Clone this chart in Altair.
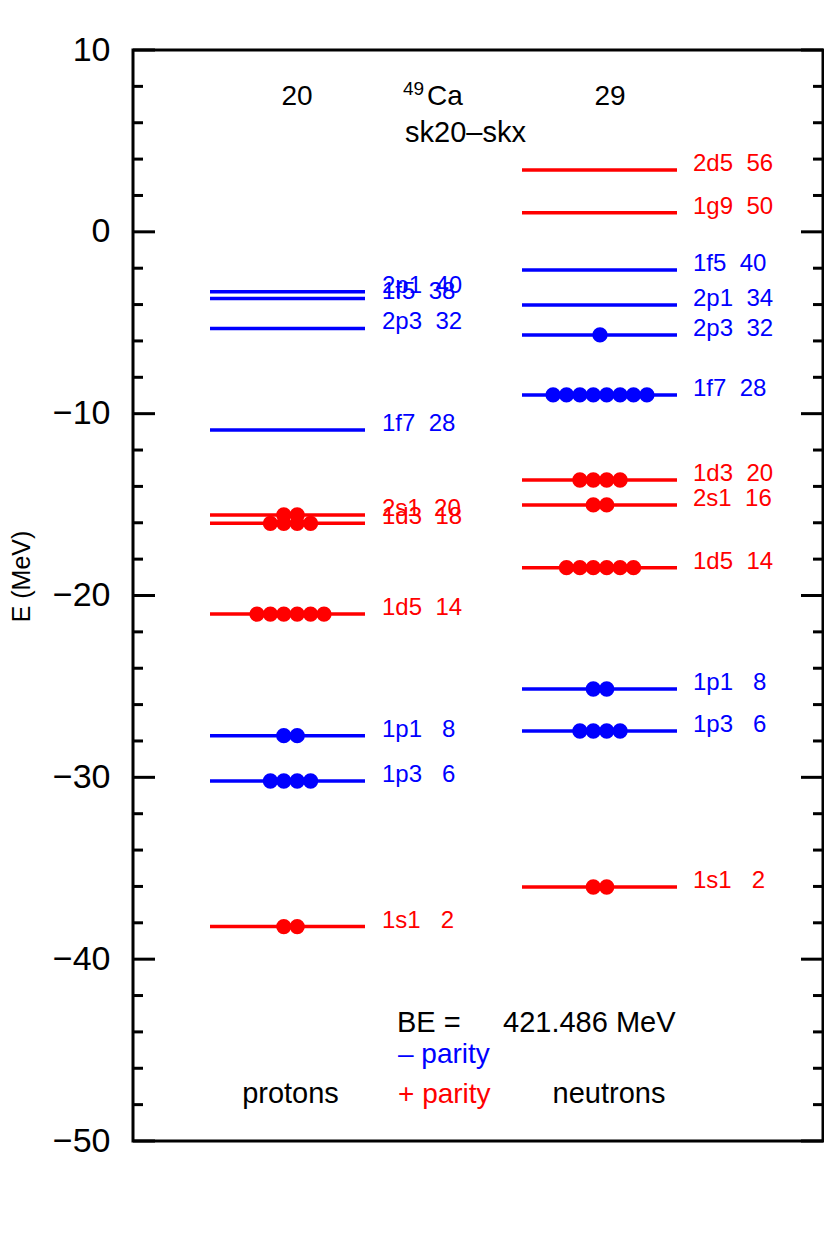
import altair as alt
import pandas as pd

# ---------------- data ----------------
# protons (Z = 20)
p_orb = ["1s1", "1p3", "1p1", "1d5", "2s1", "1d3", "1f7", "2p3", "1f5", "2p1"]
p_cnt = [2, 6, 8, 14, 20, 18, 28, 32, 38, 40]
p_E = [-38.21, -30.20, -27.71, -21.02, -15.57, -16.03, -10.90, -5.31, -3.66, -3.29]
p_occ = [2, 4, 2, 6, 2, 4, 0, 0, 0, 0]
p_par = ["+", "-", "-", "+", "+", "+", "-", "-", "-", "-"]

# neutrons (N = 29)
n_orb = ["1s1", "1p3", "1p1", "1d5", "2s1", "1d3", "1f7", "2p3", "2p1", "1f5", "1g9", "2d5"]
n_cnt = [2, 6, 8, 14, 16, 20, 28, 32, 34, 40, 50, 56]
n_E = [-36.03, -27.45, -25.14, -18.47, -15.02, -13.65, -8.97, -5.67, -4.02, -2.10, 1.05, 3.40]
n_occ = [2, 4, 2, 6, 2, 4, 8, 1, 0, 0, 0, 0]
n_par = ["+", "-", "-", "+", "+", "+", "-", "-", "-", "-", "+", "+"]

y_ticks_major = [-50, -40, -30, -20, -10, 0, 10]
y_ticks_minor = [v for v in range(-48, 10, 2) if v % 10 != 0]

nucleus_sup = "49"
nucleus = "Ca"
interaction = "sk20\u2013skx"
be_text = "421.486 MeV"

# ---------------- layout / style ----------------
W, H = 690, 1091
FONT = "Liberation Sans, Arial, Helvetica, sans-serif"
BLUE = "#0000ff"
RED = "#ff0000"
col_of = {"+": RED, "-": BLUE}
# column layout (x in plot pixels)
side = {
    "p": dict(x1=77, x2=232, dot=157.5, lab=249),
    "n": dict(x1=389, x2=544, dot=467, lab=560),
}
DOT_STEP = 13.4


def nb(s):
    return s.replace(" ", "\u00a0")


rows, dots = [], []
for key, orb, cnt, E, occ, par in (
    [("p",) + t for t in zip(p_orb, p_cnt, p_E, p_occ, p_par)]
    + [("n",) + t for t in zip(n_orb, n_cnt, n_E, n_occ, n_par)]
):
    s = side[key]
    rows.append(dict(x1=s["x1"], x2=s["x2"], lx=s["lab"], E=E,
                     label=nb(f"{orb} {cnt:>3d}"), col=col_of[par]))
    for i in range(occ):
        dots.append(dict(x=s["dot"] + (i - (occ - 1) / 2) * DOT_STEP, E=E, col=col_of[par]))

levels = pd.DataFrame(rows)
dots = pd.DataFrame(dots)

xs = alt.Scale(domain=[0, W], nice=False, zero=False)
ys = alt.Scale(domain=[-50, 10], nice=False, zero=False)
y_enc = alt.Y(
    "E:Q", scale=ys,
    axis=alt.Axis(values=y_ticks_major, title="E (MeV)", grid=False, domain=False,
                  tickSize=0, labelPadding=23, labelFont=FONT, labelFontSize=34,
                  labelColor="black", titleFont=FONT, titleFontSize=25,
                  titleFontWeight="normal", titleColor="black", titleX=-104, titleY=526,
                  titleAngle=270, titleAlign="center", titleBaseline="alphabetic"),
)


def X(field):
    return alt.X(field, scale=xs, axis=None)


lines = alt.Chart(levels).mark_rule(strokeWidth=3.5).encode(
    x=X("x1:Q"), x2="x2:Q", y=y_enc, color=alt.Color("col:N", scale=None)
)
circles = alt.Chart(dots).mark_circle(size=235, opacity=1).encode(
    x=X("x:Q"), y=y_enc, color=alt.Color("col:N", scale=None)
)
labels = alt.Chart(levels).mark_text(
    align="left", baseline="alphabetic", dy=1, font=FONT, fontSize=24
).encode(x=X("lx:Q"), y=y_enc, text="label:N", color=alt.Color("col:N", scale=None))

# axis ticks (inward)
tk_major = pd.DataFrame({"E": y_ticks_major})
tk_minor = pd.DataFrame({"E": y_ticks_minor})
ticks = []
for df, ln in ((tk_major, 22), (tk_minor, 10)):
    ticks.append(alt.Chart(df).mark_rule(color="black", strokeWidth=3).encode(
        y=y_enc, x=alt.value(0), x2=alt.value(ln)))
    ticks.append(alt.Chart(df).mark_rule(color="black", strokeWidth=3).encode(
        y=y_enc, x=alt.value(W - ln), x2=alt.value(W)))

# annotations
ann_left = pd.DataFrame([
    dict(x=294, E=6.975, text=nucleus, col="black", size=28),
    dict(x=270, E=7.53, text=nucleus_sup, col="black", size=19),
    dict(x=272, E=4.94, text=interaction, col="black", size=29),
    dict(x=264, E=-44.0, text="BE =", col="black", size=29),
    dict(x=370, E=-44.0, text=be_text, col="black", size=29),
    dict(x=265, E=-45.71, text=nb("\u2013 parity"), col=BLUE, size=28),
    dict(x=265, E=-47.91, text=nb("+ parity"), col=RED, size=28),
])
ann_center = pd.DataFrame([
    dict(x=164, E=6.975, text=str(sum(p_occ)), col="black", size=28),
    dict(x=477, E=6.975, text=str(sum(n_occ)), col="black", size=28),
    dict(x=157.5, E=-47.91, text="protons", col="black", size=29),
    dict(x=476, E=-47.91, text="neutrons", col="black", size=29),
])
t_left = alt.Chart(ann_left).mark_text(align="left", baseline="alphabetic", font=FONT).encode(
    x=X("x:Q"), y=y_enc, text="text:N",
    color=alt.Color("col:N", scale=None), size=alt.Size("size:Q", scale=None))
t_center = alt.Chart(ann_center).mark_text(align="center", baseline="alphabetic", font=FONT).encode(
    x=X("x:Q"), y=y_enc, text="text:N",
    color=alt.Color("col:N", scale=None), size=alt.Size("size:Q", scale=None))

chart = alt.layer(lines, circles, labels, *ticks, t_left, t_center).properties(
    width=W, height=H,
    background="white",
    autosize=alt.AutoSizeParams(type="none"),
    padding={"left": 125, "top": 42, "right": 1, "bottom": 60},
).configure_view(stroke="black", strokeWidth=3)

chart.save("out.html", embed_options={"renderer": "svg", "actions": False})
